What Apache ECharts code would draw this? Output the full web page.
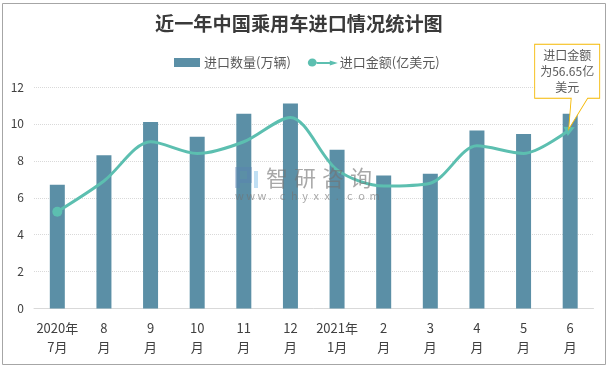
<!DOCTYPE html>
<html><head><meta charset="utf-8">
<style>html,body{margin:0;padding:0;background:#fff}#c{width:609px;height:370px}</style>
<script src="https://cdn.jsdelivr.net/npm/echarts@6/dist/echarts.min.js"></script>
</head><body><div id="c"></div>
<script>
const titleText = '近一年中国乘用车进口情况统计图';
const categories = ['2020年\n7月','8\n月','9\n月','10\n月','11\n月','12\n月','2021年\n1月','2\n月','3\n月','4\n月','5\n月','6\n月'];
const quantityName = '进口数量(万辆)';
const amountName = '进口金额(亿美元)';
const quantity = [6.7,8.3,10.1,9.3,10.55,11.1,8.6,7.2,7.3,9.65,9.45,10.55];
const amount = [30.6,40.3,52.7,49,52.7,60.4,43.8,38.7,39.6,51.4,49,56.65];
const calloutText = '进口金额\n为56.65亿\n美元';
const watermarkChars = ['智','研','咨','询'];
const watermarkUrl = ['w','w','w','.','c','h','y','x','x','.','c','o','m'];
const font = '"Noto Sans CJK SC"';
const chart = echarts.init(document.getElementById('c'), null, {renderer:'canvas'});
const amountData = amount.map((v,i)=>{
  if(i===0) return {value:v, symbol:'circle', symbolSize:10};
  if(i===amount.length-1) return {value:v, symbol:'triangle', symbolSize:[10,10], symbolRotate:-65};
  return {value:v, symbol:'none'};
});
const wmGray='rgba(115,115,115,0.62)', wmBlue='rgba(90,130,180,0.38)', wmSky='rgba(90,170,225,0.38)';
chart.setOption({
  animation:false,
  textStyle:{fontFamily:font},
  title:{text:titleText,left:155,top:14,padding:0,textStyle:{fontFamily:font,fontSize:19.2,fontWeight:'bold',color:'#3a3a3a'}},
  legend:{top:51,left:169,itemGap:17,itemWidth:30,itemHeight:9,textStyle:{fontSize:13,color:'#595959',fontFamily:font,padding:[0,0,0,-3]},
    data:[{name:quantityName,icon:'path://M0 0H26V9H0Z'},
          {name:amountName,icon:'path://M0 4.5 A4.5 4.5 0 1 1 8.9 5.5 H22 V2 L30 4.5 L22 7 V3.5 H8.9 A4.5 4.5 0 0 1 0 4.5 Z'}]},
  grid:{left:34,right:15.5,top:87,bottom:61.5},
  xAxis:{type:'category',data:categories,axisTick:{show:false},
    axisLine:{lineStyle:{color:'#d9d9d9'}},
    axisLabel:{interval:0,color:'#404040',fontSize:13,lineHeight:19,margin:10,fontFamily:font}},
  yAxis:[{type:'value',min:0,max:12,interval:2,axisLine:{show:false},axisTick:{show:false},
      axisLabel:{color:'#404040',fontSize:12,margin:10,fontFamily:font},
      splitLine:{lineStyle:{color:'#d9d9d9',type:'dotted'}}},
    {type:'value',min:0,max:70,interval:10,show:false,splitLine:{show:false}}],
  series:[
    {name:quantityName,type:'bar',data:quantity,barWidth:15,itemStyle:{color:'#5b8fa6'},z:2},
    {name:amountName,type:'line',yAxisIndex:1,smooth:0.3,data:amountData,z:3,
      lineStyle:{color:'#5cbfb0',width:3},itemStyle:{color:'#5cbfb0'},
      markPoint:{silent:true,z:5,
        data:[{coord:[amount.length-1,amount[amount.length-1]],
          symbol:'path://M0 0H65V54H53L34 85L36.5 54H0Z',symbolSize:[65,85],
          symbolOffset:[-3,-42.5],
          itemStyle:{color:'#fff',borderColor:'#f5b800',borderWidth:1},
          label:{show:true,formatter:calloutText,color:'#595959',fontSize:12,lineHeight:16,fontFamily:font,position:'inside',offset:[0,-15.5]}}]}}
  ],
  graphic:[
    {type:'rect',z:-1,shape:{x:2.5,y:3.5,width:603,height:361},style:{fill:'#fff',stroke:'#a6a6a6',lineWidth:1}},
    {type:'rect',z:100,silent:true,shape:{x:235,y:167,width:17,height:4},style:{fill:wmBlue}},
    {type:'rect',z:100,silent:true,shape:{x:235,y:171,width:5,height:17},style:{fill:wmBlue}},
    {type:'rect',z:100,silent:true,shape:{x:247,y:171,width:5,height:8},style:{fill:wmBlue}},
    {type:'rect',z:100,silent:true,shape:{x:240,y:179,width:12,height:4},style:{fill:wmBlue}},
    {type:'rect',z:100,silent:true,shape:{x:254,y:171,width:4,height:17},style:{fill:wmSky}},
    ...watermarkChars.map((ch,i)=>({type:'text',z:100,silent:true,style:{x:266+i*28,y:167,text:ch,fill:wmGray,font:'22px '+font}})),
    ...watermarkUrl.map((ch,i)=>({type:'text',z:100,silent:true,style:{x:235+i*11.2,y:190,text:ch,fill:wmGray,font:'11px '+font}}))
  ]
});
</script></body></html>
